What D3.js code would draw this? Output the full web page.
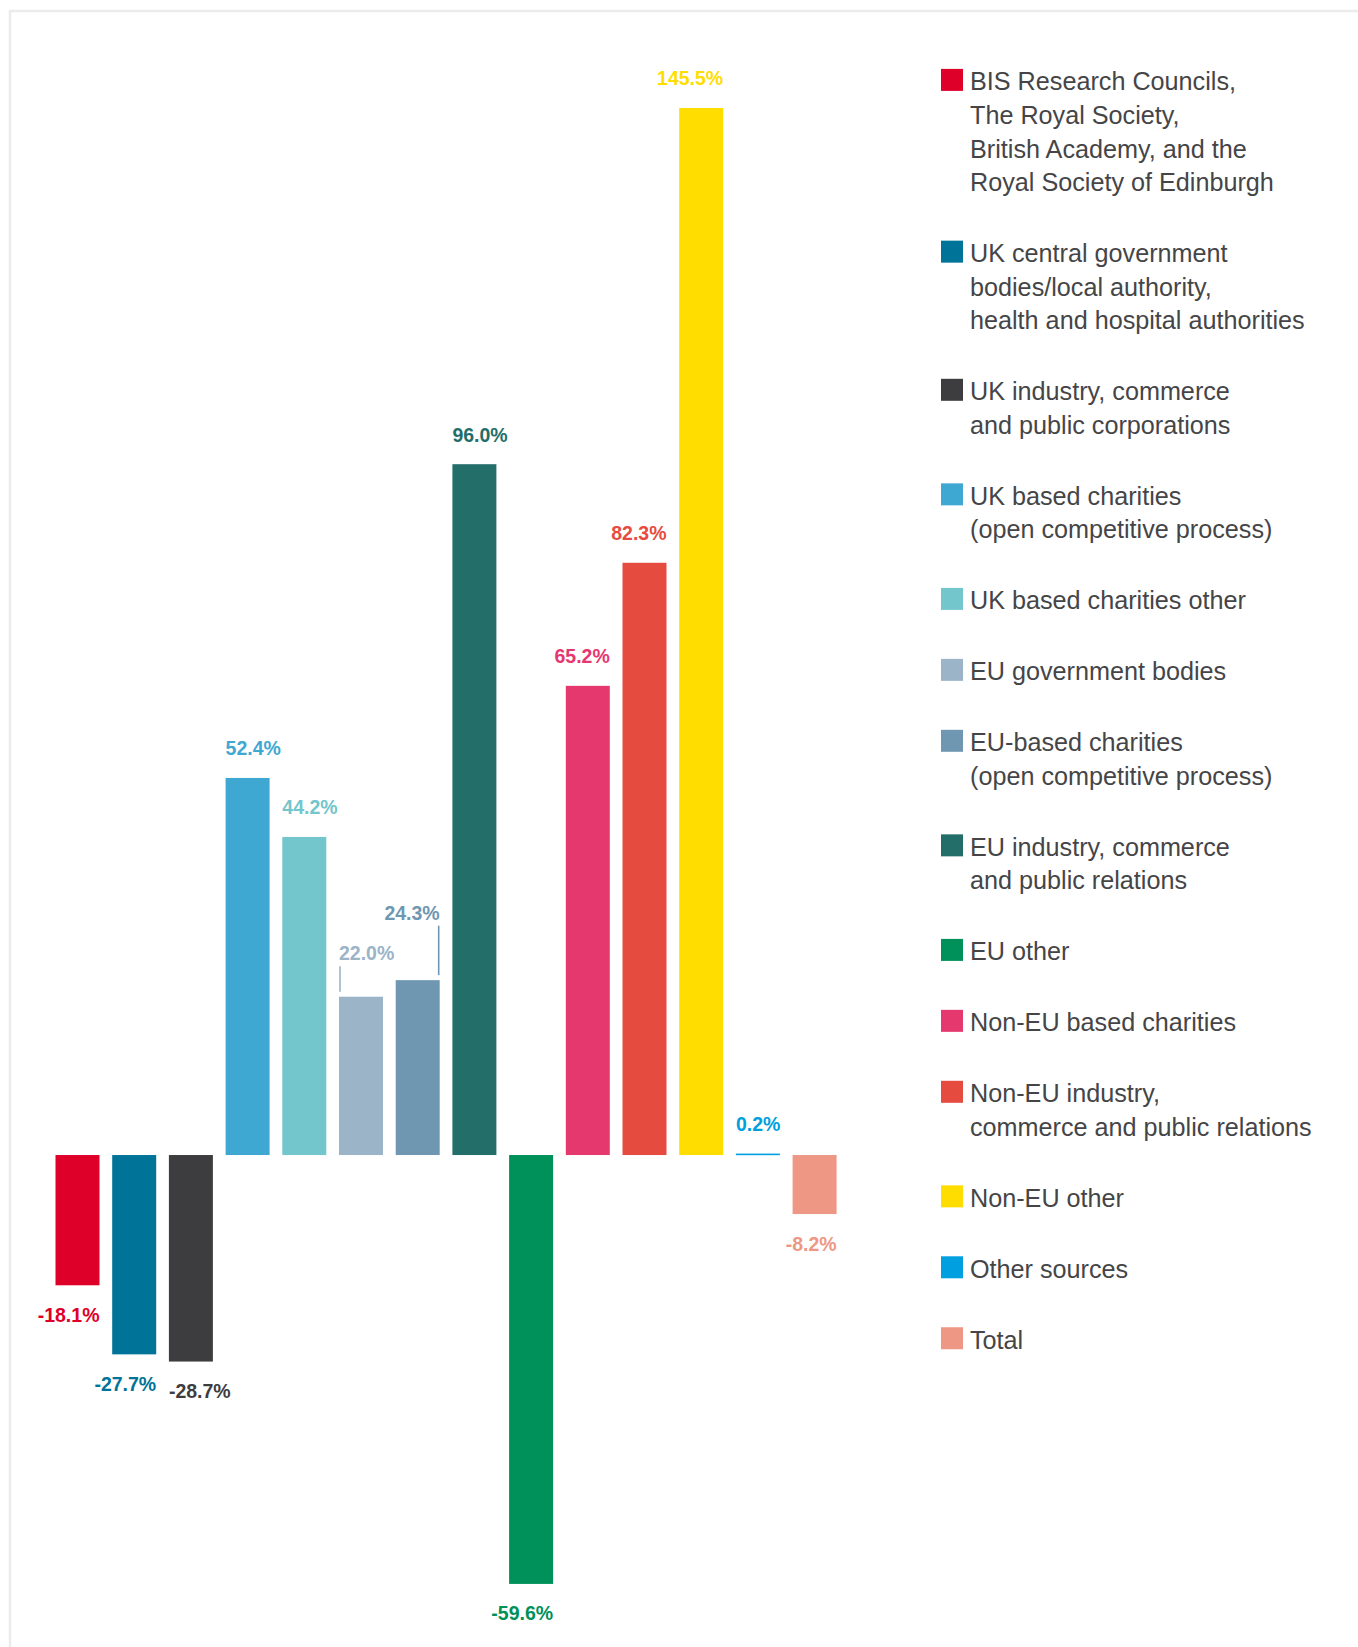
<!DOCTYPE html>
<html>
<head>
<meta charset="utf-8">
<script src="https://cdn.jsdelivr.net/npm/d3@7"></script>
<style>
  html, body { margin: 0; padding: 0; background: #fff; }
  svg { display: block; }
</style>
</head>
<body>
<svg id="chart" width="1358" height="1647"></svg>
<script>
// categories, in bar order
const categories = [
  "BIS Research Councils,\nThe Royal Society,\nBritish Academy, and the\nRoyal Society of Edinburgh",
  "UK central government\nbodies/local authority,\nhealth and hospital authorities",
  "UK industry, commerce\nand public corporations",
  "UK based charities\n(open competitive process)",
  "UK based charities other",
  "EU government bodies",
  "EU-based charities\n(open competitive process)",
  "EU industry, commerce\nand public relations",
  "EU other",
  "Non-EU based charities",
  "Non-EU industry,\ncommerce and public relations",
  "Non-EU other",
  "Other sources",
  "Total"
];

// % change
const values = [-18.1, -27.7, -28.7, 52.4, 44.2, 22.0, 24.3, 96.0, -59.6, 65.2, 82.3, 145.5, 0.2, -8.2];

const colors = [
  "#de0029", "#007498", "#3d3d3f", "#3fa8d2", "#73c6cc", "#9bb4c8", "#6f97b1",
  "#246e69", "#00915a", "#e5386f", "#e64b40", "#ffdd00", "#009fe0", "#ee9785"
];

// label placement: which bar edge the label hugs, and extra lift (with leader line) for crowded ones
const labelAnchor = ["end", "end", "start", "start", "start", "start", "end", "start", "end", "end", "end", "end", "start", "end"];
const labelLift = [0, 0, 0, 0, 0, 14, 38, 0, 0, 0, 0, 0, 0, 0];

const svg = d3.select("#chart");

// card frame
svg.append("rect")
  .attr("x", 10).attr("y", 11)
  .attr("width", 1500).attr("height", 1800)
  .attr("fill", "none")
  .attr("stroke", "#ebebeb")
  .attr("stroke-width", 2.5);

const x = d3.scaleBand()
  .domain(d3.range(categories.length))
  .range([55.5, 836.6])
  .paddingInner(0.224)
  .paddingOuter(0);

const y = d3.scaleLinear()
  .domain([-60, 150])
  .range([1586.8, 75.6]);

const g = svg.append("g");

g.selectAll("rect.bar")
  .data(values)
  .join("rect")
  .attr("class", "bar")
  .attr("x", (d, i) => x(i))
  .attr("width", x.bandwidth())
  .attr("y", (d) => Math.min(y(d), y(0)))
  .attr("height", (d) => Math.max(Math.abs(y(d) - y(0)), 1.6))
  .attr("fill", (d, i) => colors[i]);

const labelX = (i) => labelAnchor[i] === "end" ? x(i) + x.bandwidth() : x(i);
const labelY = (d, i) => d >= 0 ? y(d) - 22.5 - labelLift[i] : y(d) + 36.5;

g.selectAll("text.val")
  .data(values)
  .join("text")
  .attr("class", "val")
  .attr("x", (d, i) => labelX(i))
  .attr("y", labelY)
  .attr("text-anchor", (d, i) => labelAnchor[i])
  .attr("fill", (d, i) => colors[i])
  .attr("font-family", "'Liberation Sans', Arial, sans-serif")
  .attr("font-weight", "bold")
  .attr("font-size", "19.5px")
  .text((d) => d.toFixed(1) + "%");

// leader lines for lifted labels
g.selectAll("line.leader")
  .data(values.map((d, i) => ({ d, i })).filter((o) => labelLift[o.i] > 0))
  .join("line")
  .attr("class", "leader")
  .attr("x1", (o) => labelX(o.i) + (labelAnchor[o.i] === "end" ? -1 : 1))
  .attr("x2", (o) => labelX(o.i) + (labelAnchor[o.i] === "end" ? -1 : 1))
  .attr("y1", (o) => labelY(o.d, o.i) + 6)
  .attr("y2", (o) => y(o.d) - 5)
  .attr("stroke", (o) => colors[o.i])
  .attr("stroke-width", 1.6);

// legend
const lineH = 33.6;
const itemGap = 37.35;
const legend = svg.append("g").attr("transform", "translate(941,0)");
let base = 90.4;
categories.forEach((c, i) => {
  const lines = c.split("\n");
  const item = legend.append("g");
  item.append("rect")
    .attr("x", 0).attr("y", base - 21.5)
    .attr("width", 22).attr("height", 22)
    .attr("fill", colors[i]);
  item.append("text")
    .attr("x", 29)
    .attr("y", base)
    .attr("fill", "#454547")
    .attr("font-family", "'Liberation Sans', Arial, sans-serif")
    .attr("font-size", "25.2px")
    .selectAll("tspan")
    .data(lines)
    .join("tspan")
    .attr("x", 29)
    .attr("dy", (d, k) => k === 0 ? 0 : lineH)
    .text((d) => d);
  base += lines.length * lineH + itemGap;
});
</script>
</body>
</html>
